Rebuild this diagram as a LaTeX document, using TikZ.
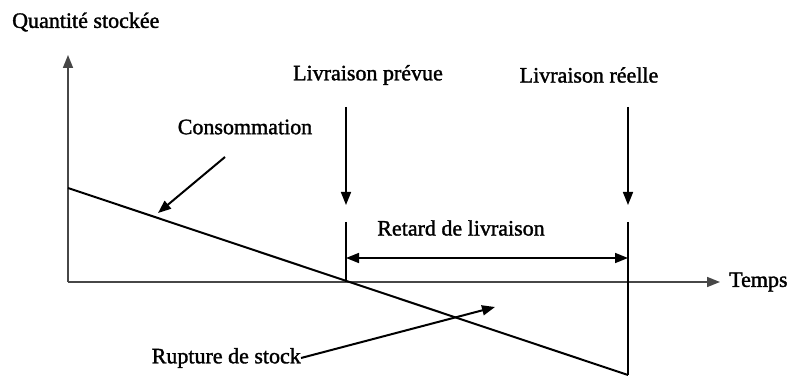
\documentclass[tikz,border=0pt]{standalone}
\usepackage{fontspec}
\setmainfont{Liberation Serif}
\newfontfamily\labelfont{Liberation Serif}[FakeBold=1.5]
\usetikzlibrary{arrows.meta}
\begin{document}
\begin{tikzpicture}[x=1pt,y=-1pt,
  lbl/.style={font=\labelfont\fontsize{22}{24}\selectfont, inner sep=0pt},
  axisline/.style={line width=1.6pt, draw=black!72},
  stockline/.style={line width=2pt, draw=black},
  mark line/.style={line width=1.6pt, draw=black},
  tip/.style={-{Triangle[length=13pt,width=10pt]}},
  pointer/.style={line width=2pt, -{Triangle[length=13pt,width=10pt]}},
]
\useasboundingbox (0,0) rectangle (794,379);

% axes
\coordinate (O) at (68,282);
\coordinate (ytop) at (68,55);
\coordinate (xend) at (720,282);
\draw[axisline, tip] (O) -- (ytop);
\draw[axisline, tip] (O) -- (xend);
\node[lbl, anchor=west] (qs) at (12,22) {Quantité stockée};
\node[lbl, anchor=west] (temps) at (729,282) {Temps};

% stock level falling over time
\coordinate (s0) at (68,188);
\coordinate (s1) at (628,375);
\draw[stockline] (s0) -- (s1);

% planned and actual deliveries
\node[lbl] (lp) at (368,75) {Livraison prévue};
\node[lbl] (lr) at (589,75) {Livraison réelle};
\coordinate (p0) at (346,107);
\coordinate (p1) at (346,205);
\coordinate (p2) at (346,222);
\coordinate (p3) at (346,282);
\coordinate (r0) at (628,107);
\coordinate (r1) at (628,205);
\coordinate (r2) at (628,222);
\draw[mark line, tip] (p0) -- (p1);
\draw[mark line, tip] (r0) -- (r1);
\draw[mark line] (p2) -- (p3);
\draw[mark line] (r2) -- (s1);

% delivery delay
\coordinate (d0) at (346,258);
\coordinate (d1) at (628,258);
\draw[mark line, {Triangle[length=13pt,width=10pt]}-{Triangle[length=13pt,width=10pt]}] (d0) -- (d1);
\node[lbl] (retard) at (461,228) {Retard de livraison};

% labels with pointers
\node[lbl] (conso) at (245,127) {Consommation};
\coordinate (c0) at (225,157);
\coordinate (c1) at (158,213);
\draw[pointer] (c0) -- (c1);

\node[lbl, anchor=east] (rupture) at (301,358) {Rupture de stock};
\coordinate (u1) at (495,307);
\draw[pointer] (rupture.east) -- (u1);
\end{tikzpicture}
\end{document}
